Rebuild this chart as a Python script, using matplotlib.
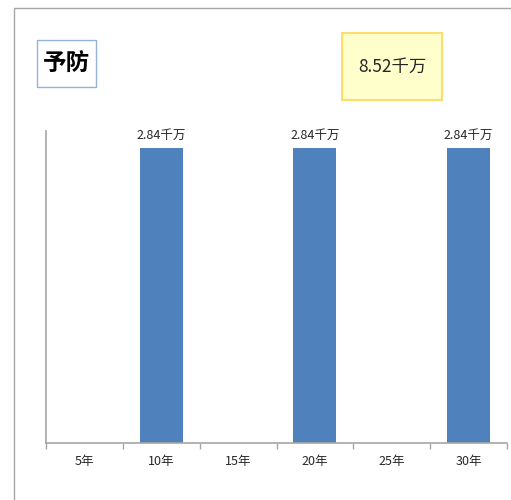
import numpy as np
import matplotlib; matplotlib.use("Agg")
import matplotlib.pyplot as plt
from matplotlib.patches import Rectangle

plt.rcParams['font.family'] = ['Noto Sans CJK SC', 'DejaVu Sans']

categories = ["5年", "10年", "15年", "20年", "25年", "30年"]
values = [0, 2.84, 0, 2.84, 0, 2.84]
value_labels = ["", "2.84千万", "", "2.84千万", "", "2.84千万"]
total_label = "8.52千万"
title = "予防"

W, H = 511, 500
fig = plt.figure(figsize=(W / 100, H / 100), dpi=100)

# outer chart frame (only left/top edges visible in the crop)
fig.patches.append(Rectangle((14 / W, -0.1), 1.2, 1 - 8 / H + 0.1, transform=fig.transFigure,
                             fill=False, ec="#A6A6A6", lw=1.0))

ax = fig.add_axes([46 / W, 1 - 443 / H, (507 - 46) / W, (443 - 131) / H])
x = np.arange(len(categories))
ax.bar(x, values, 0.56, color="#4F81BD")
for xi, v, lab in zip(x, values, value_labels):
    if lab:
        ax.text(xi, v + 0.06, lab, ha="center", va="bottom", fontsize=9, color="#262626")
ax.set_xlim(-0.5, len(categories) - 0.5)
ax.set_ylim(0, 3.0)
ax.set_yticks([])
ax.set_xticks(np.arange(len(categories) + 1) - 0.5)
ax.set_xticklabels([])
ax.set_xticks(x, minor=True)
ax.set_xticklabels(categories, minor=True, fontsize=9, color="#262626")
ax.tick_params(axis="x", which="major", length=4, color="#A6A6A6", width=1)
ax.tick_params(axis="x", which="minor", length=0, pad=9)
for s in ["top", "right"]:
    ax.spines[s].set_visible(False)
for s in ["left", "bottom"]:
    ax.spines[s].set_color("#A6A6A6")
    ax.spines[s].set_linewidth(1.2)

# title box
fig.patches.append(Rectangle((37 / W, 1 - 87 / H), 59 / W, 47 / H, transform=fig.transFigure,
                             fc="white", ec="#95B3D7", lw=1))
fig.text(67 / W, 1 - 63 / H, title, ha="center", va="center", fontsize=17, fontweight="bold")
# total box
fig.patches.append(Rectangle((342 / W, 1 - 100 / H), 100 / W, 67 / H, transform=fig.transFigure,
                             fc="#FFFFCC", ec="#FFD54F", lw=1.2))
fig.text(392 / W, 1 - 67 / H, total_label, ha="center", va="center", fontsize=12.5, color="#262626")

fig.savefig("out.png", dpi=100)
